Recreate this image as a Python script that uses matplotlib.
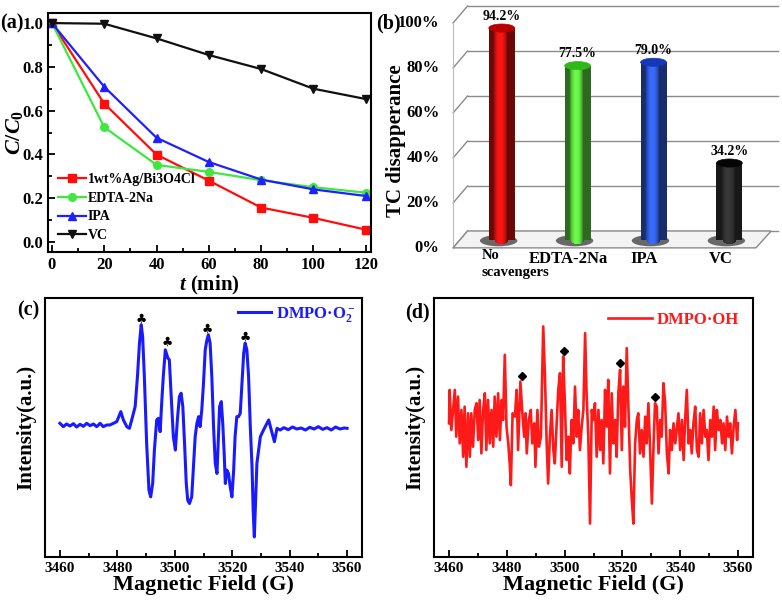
import numpy as np
import matplotlib
matplotlib.use("Agg")
import matplotlib.pyplot as plt
from matplotlib.patches import Rectangle, Ellipse, Polygon
from matplotlib.ticker import MultipleLocator

plt.rcParams['font.family'] = 'Liberation Serif'
plt.rcParams['font.weight'] = 'bold'
plt.rcParams['axes.labelweight'] = 'bold'
plt.rcParams['mathtext.fontset'] = 'custom'
plt.rcParams['mathtext.rm'] = 'Liberation Serif:bold'
plt.rcParams['mathtext.it'] = 'Liberation Serif:bold:italic'
plt.rcParams['mathtext.bf'] = 'Liberation Serif:bold'

# ---- (a) degradation curves ----
t_min = [0, 20, 40, 60, 80, 100, 120]
c_ag = [1.0, 0.632, 0.399, 0.28, 0.157, 0.11, 0.056]
c_edta = [1.0, 0.524, 0.352, 0.32, 0.282, 0.25, 0.225]
c_ipa = [1.0, 0.709, 0.476, 0.365, 0.285, 0.24, 0.21]
c_vc = [1.0, 0.997, 0.93, 0.854, 0.79, 0.70, 0.653]

# ---- (b) scavenger bars ----
scavengers = ['No\nscavengers', 'EDTA-2Na', 'IPA', 'VC']
removal = [94.2, 77.5, 79.0, 34.2]
removal_labels = ['94.2%', '77.5%', '79.0%', '34.2%']
pct_ticks = [0, 20, 40, 60, 80, 100]
pct_labels = ['0%', '20%', '40%', '60%', '80%', '100%']

# ---- (c) DMPO-O2- spectrum ----
field_c = [3460.0, 3461.2, 3462.3, 3463.5, 3464.7, 3465.8, 3467.0, 3468.2, 3469.3, 3470.5,
           3471.7, 3472.8, 3474.0, 3475.1, 3476.3, 3477.4, 3478.6, 3479.8, 3481.2, 3482.1,
           3483.3, 3484.2, 3485.0, 3486.2, 3487.0, 3487.7, 3488.3, 3488.8, 3489.4, 3490.2,
           3491.0, 3491.6, 3492.3, 3492.9, 3493.7, 3494.3, 3494.9, 3495.5, 3496.0, 3496.7,
           3497.6, 3498.1, 3498.7, 3499.5, 3500.2, 3500.9, 3501.6, 3502.2, 3502.8, 3503.4,
           3504.0, 3504.5, 3505.1, 3505.9, 3506.5, 3507.1, 3507.7, 3508.3, 3508.8, 3509.4,
           3510.0, 3510.6, 3511.2, 3511.7, 3512.3, 3512.9, 3513.5, 3514.1, 3514.7, 3515.2,
           3515.6, 3516.2, 3516.7, 3517.2, 3517.6, 3518.1, 3518.7, 3519.3, 3519.9, 3520.5,
           3521.0, 3521.6, 3522.2, 3522.8, 3523.4, 3524.0, 3524.5, 3525.1, 3525.7, 3526.3,
           3526.9, 3527.3, 3527.7, 3528.6, 3529.8, 3530.9, 3532.1, 3532.7, 3533.6, 3534.7,
           3535.6, 3536.7, 3538.0, 3539.5, 3541.0, 3542.5, 3544.0, 3545.5, 3547.0, 3548.5,
           3550.0, 3551.5, 3553.0, 3554.5, 3556.0, 3557.5, 3559.0, 3560.0]
int_c = [5, -5, 3, -3, 4, -6, 2, -4, 5, -2,
         3, -5, 5, -5, 0, 0, 5, 10, 40, 15,
         -5, -10, 15, 55, 145, 245, 300, 265, 145, -55,
         -195, -215, -175, -75, 15, 20, -20, 75, 145, 225,
         200, 195, 95, -35, -75, 15, 85, 95, 55, -55,
         -175, -225, -235, -215, -125, -35, 5, 25, -5, 45,
         125, 225, 255, 270, 245, 145, -5, -115, -145, -35,
         55, 70, 5, -85, -175, -135, -145, -185, -215, -135,
         -35, 25, 25, 35, 125, 215, 245, 225, 145, -5,
         -125, -255, -335, -115, -35, -15, 5, 15, -15, -50,
         -10, -15, -8, -14, -6, -12, -9, -15, -7, -12,
         -5, -13, -8, -15, -6, -12, -9, -10]
club_field = [3488.3, 3497.3, 3511.4, 3524.4]
club_int = [317, 248, 285, 262]

# ---- (d) DMPO-OH spectrum ----
field_d = [3460.0, 3460.2, 3460.8, 3462.0, 3462.5, 3463.1, 3463.7, 3464.3, 3464.9, 3465.4,
           3466.0, 3466.6, 3467.2, 3467.7, 3468.3, 3468.9, 3469.5, 3470.1, 3470.6, 3471.2,
           3471.8, 3472.4, 3472.9, 3473.5, 3474.1, 3474.7, 3475.3, 3475.8, 3476.4, 3477.0,
           3477.6, 3478.2, 3478.7, 3479.3, 3479.9, 3480.5, 3481.0, 3481.4, 3482.0, 3482.8,
           3483.4, 3483.9, 3484.7, 3485.3, 3486.0, 3486.5, 3486.9, 3487.6, 3488.3, 3488.8,
           3489.5, 3489.9, 3490.6, 3491.1, 3491.8, 3492.6, 3493.2, 3493.8, 3494.3, 3494.9,
           3495.5, 3496.1, 3496.6, 3497.2, 3497.8, 3498.4, 3499.0, 3499.5, 3500.1, 3500.7,
           3501.3, 3501.8, 3502.4, 3503.0, 3503.6, 3504.2, 3504.7, 3505.3, 3505.9, 3506.5,
           3507.1, 3507.6, 3508.2, 3508.8, 3509.4, 3509.9, 3510.5, 3511.1, 3511.7, 3512.3,
           3512.8, 3513.4, 3514.0, 3514.6, 3515.1, 3515.7, 3516.3, 3516.9, 3517.5, 3518.0,
           3518.6, 3519.2, 3519.8, 3520.3, 3520.9, 3521.5, 3522.1, 3522.7, 3523.2, 3523.8,
           3524.4, 3525.0, 3525.5, 3526.1, 3526.7, 3527.3, 3527.9, 3528.4, 3529.0, 3529.6,
           3530.2, 3530.8, 3531.3, 3531.9, 3532.5, 3533.1, 3533.6, 3534.2, 3534.8, 3535.4,
           3536.0, 3536.5, 3537.1, 3537.7, 3538.3, 3538.8, 3539.4, 3540.0, 3540.6, 3541.2,
           3541.7, 3542.3, 3542.9, 3543.5, 3544.0, 3544.6, 3545.2, 3545.8, 3546.4, 3546.9,
           3547.5, 3548.1, 3548.7, 3549.2, 3549.8, 3550.4, 3551.0, 3551.6, 3552.1, 3552.7,
           3553.3, 3553.9, 3554.5, 3555.0, 3555.6, 3556.2, 3556.8, 3557.3, 3557.9, 3558.5,
           3559.1, 3559.7, 3560.0]
int_d = [0, 100, -20, 100, -40, 80, -60, 40, -100, 50,
         -130, 30, -100, 30, -70, 40, 60, -50, 70, -90,
         40, 90, -80, 70, -60, 40, -70, 80, -40, 90,
         -50, 70, 10, 205, -10, -60, -120, -185, 30, 20,
         100, -80, 125, 40, -40, 30, -90, 10, 40, -60,
         0, -130, 40, -70, -40, 290, 140, -60, -180, -40,
         40, -80, -120, -10, 100, 150, -130, 200, 60, -110,
         -40, -150, 10, -60, 110, -40, 40, -80, -10, 40,
         270, 90, -40, -300, 40, 10, 60, -100, 40, -80,
         10, -120, 100, -10, 130, -150, 90, -60, 10, -100,
         90, 160, -80, 110, -10, 225, 40, -140, -220, -300,
         -60, 10, 30, -90, -20, -100, 20, -60, 60, -80,
         -240, -60, 60, 50, -90, 10, -40, 120, 60, -90,
         -150, -20, -80, 0, -60, -20, 30, -80, 10, -110,
         10, 100, -60, -20, -90, 0, 50, -80, -100, 30,
         -60, 40, -40, -20, -110, 10, -40, 50, -80, 40,
         -20, 10, -60, 0, -80, 20, -40, 0, -90, -10,
         40, -50, 0]
dia_field = [3485.1, 3499.7, 3519.2, 3531.3]
dia_int = [142, 215, 180, 78]

W, H = 782, 602
fig = plt.figure(figsize=(W / 100, H / 100), dpi=100)


def px_axes(l, t, r, b):
    return fig.add_axes([l / W, 1 - b / H, (r - l) / W, (b - t) / H])


def style_box(ax, fs):
    for s in ax.spines.values():
        s.set_linewidth(1.5)
    ax.tick_params(which='both', direction='in', top=False, right=False, width=1.3, labelsize=fs)
    ax.tick_params(which='major', length=5)
    ax.tick_params(which='minor', length=3)


# ---------- (a) ----------
ax = px_axes(48, 13, 371, 252)
ax.plot(t_min, c_ag, '-s', color='#ff0d0d', lw=1.6, ms=5.5, label='1wt%Ag/Bi3O4Cl')
ax.plot(t_min, c_edta, '-o', color='#3ee83e', lw=1.6, ms=5.5, label='EDTA-2Na')
ax.plot(t_min, c_ipa, '-^', color='#2020ff', lw=1.6, ms=6, label='IPA')
ax.plot(t_min, c_vc, '-v', color='#101010', lw=1.6, ms=6, label='VC')
ax.set_xlim(-1.5, 122)
ax.set_ylim(-0.046, 1.046)
ax.xaxis.set_major_locator(MultipleLocator(20))
ax.xaxis.set_minor_locator(MultipleLocator(10))
ax.yaxis.set_major_locator(MultipleLocator(0.2))
ax.yaxis.set_minor_locator(MultipleLocator(0.1))
style_box(ax, 12)
ax.set_xlabel('$t$ (min)', fontsize=15, labelpad=1)
ax.set_ylabel('$C/C_0$', fontsize=16, labelpad=-2)
ax.legend(loc='lower left', frameon=False, fontsize=10, handlelength=2.0, handletextpad=0.15,
          labelspacing=0.42, borderaxespad=0.3)

# ---------- (b) ----------
bx = px_axes(440, 0, 782, 260)
bx.set_xlim(-0.813, 3.693)
bx.set_ylim(-8.89, 106.67)
bx.axis('off')
xs = np.arange(len(removal))
front, back = -3.5, 4.0
xl_f, xl_b, xr_f, xr_b = -0.64, -0.45, 3.35, 3.55
bx.add_patch(Polygon([(xl_f, front), (xr_f, front), (xr_b, back), (xl_b, back)],
                     closed=True, fc='#f3f3f3', ec='#8a8a8a', lw=1.0, zorder=1))
for v, lab in zip(pct_ticks, pct_labels):
    bx.plot([xl_b, 3.64], [v + back, v + back], color='#8a8a8a', lw=1.0, zorder=0.5)
    bx.plot([xl_f, xl_b], [v + front, v + back], color='#8a8a8a', lw=1.0, zorder=0.5)
    bx.text(-0.82, v + front, lab, ha='right', va='center', fontsize=12)
bx.plot([xl_f, xl_f], [front, 100 + front], color='#bbbbbb', lw=0.8, zorder=0.5)

bar_cols = [(1.0, 0.08, 0.08), (0.42, 0.98, 0.28), (0.22, 0.42, 1.0), (0.22, 0.22, 0.22)]
top_cols = [(0.72, 0.0, 0.0), (0.18, 0.72, 0.1), (0.08, 0.22, 0.72), (0.02, 0.02, 0.02)]
bw, e = 0.34, 1.8
for i, (xc, h) in enumerate(zip(xs, removal)):
    bx.add_patch(Ellipse((xc - 0.04, -0.3), bw * 1.45, 5.0, fc='#3a3a3a', alpha=0.75, lw=0, zorder=2))
    edges = np.linspace(-bw / 2, bw / 2, 25)
    for k in range(len(edges) - 1):
        u = (edges[k] + edges[k + 1]) / bw
        f = max(0.42, 1 - 1.9 * (u + 0.1) ** 2)
        col = tuple(c * f for c in bar_cols[i])
        yb = -e * np.sqrt(max(0.0, 1 - (2 * u) ** 2))
        bx.add_patch(Rectangle((xc + edges[k], yb), edges[k + 1] - edges[k] + 0.002, h - yb,
                               fc=col, lw=0, zorder=3))
    bx.add_patch(Ellipse((xc, h), bw, 2 * e, fc=top_cols[i], ec=top_cols[i], lw=0.5, zorder=4))
    bx.text(xc, h + 2.4, removal_labels[i], ha='center', va='bottom', fontsize=10, zorder=5)
# first category label is two lines, left aligned under the first bar
for line, yy in zip(scavengers[0].split('\n'), [-6.8, -14.6]):
    bx.text(xs[0] - 0.26, yy, line, ha='left', va='center', fontsize=10.5)
for i in range(1, len(scavengers)):
    bx.text(xs[i] - 0.12, -8.4, scavengers[i], ha='center', va='center', fontsize=12)
bx.text(-1.39, 44, 'TC disapperance', rotation=90, ha='center', va='center', fontsize=15)

# ---------- (c) ----------
cx = px_axes(45, 298, 362, 557)
cx.plot(field_c, int_c, color='#1a1aff', lw=2.2, label='DMPO·O$_2^-$')
for fx, iy in zip(club_field, club_int):
    cx.text(fx, iy, '\u2663', family=['DejaVu Sans'], ha='center', va='center', fontsize=9)
cx.set_xlim(3454.8, 3565.2)
cx.set_ylim(-395, 380)
cx.set_yticks([])
cx.xaxis.set_major_locator(MultipleLocator(20))
cx.xaxis.set_minor_locator(MultipleLocator(10))
style_box(cx, 11)
cx.set_xlabel('Magnetic Field (G)', fontsize=16, labelpad=0)
cx.set_ylabel('Intensity(a.u.)', fontsize=15, labelpad=6)
leg = cx.legend(loc='upper right', frameon=False, fontsize=12, handlelength=2.0,
                handletextpad=0.3, borderaxespad=0.0)
for txt in leg.get_texts():
    txt.set_color('#1a1aff')

# ---------- (d) ----------
dx = px_axes(434, 298, 753, 557)
dx.plot(field_d, int_d, color='#ff1a1a', lw=1.9, label='DMPO·OH')
dx.plot(dia_field, dia_int, 'D', color='black', ms=4.5, ls='none')
dx.set_xlim(3454.8, 3565.2)
dx.set_ylim(-400, 375)
dx.set_yticks([])
dx.xaxis.set_major_locator(MultipleLocator(20))
dx.xaxis.set_minor_locator(MultipleLocator(10))
style_box(dx, 11)
dx.set_xlabel('Magnetic Field (G)', fontsize=16, labelpad=0)
dx.set_ylabel('Intensity(a.u.)', fontsize=15, labelpad=6)
leg = dx.legend(handles=dx.lines[:1], loc='upper right', frameon=False, fontsize=12,
                handlelength=2.6, handletextpad=0.3, borderaxespad=0.45)
for txt in leg.get_texts():
    txt.set_color('#ff1a1a')

# panel letters
for lab, x, y in [('(a)', 12, 23), ('(b)', 388, 23), ('(c)', 28, 310), ('(d)', 417, 312)]:
    fig.text(x / W, 1 - y / H, lab, ha='center', va='center', fontsize=14.5)

fig.savefig('out.png', dpi=100)
